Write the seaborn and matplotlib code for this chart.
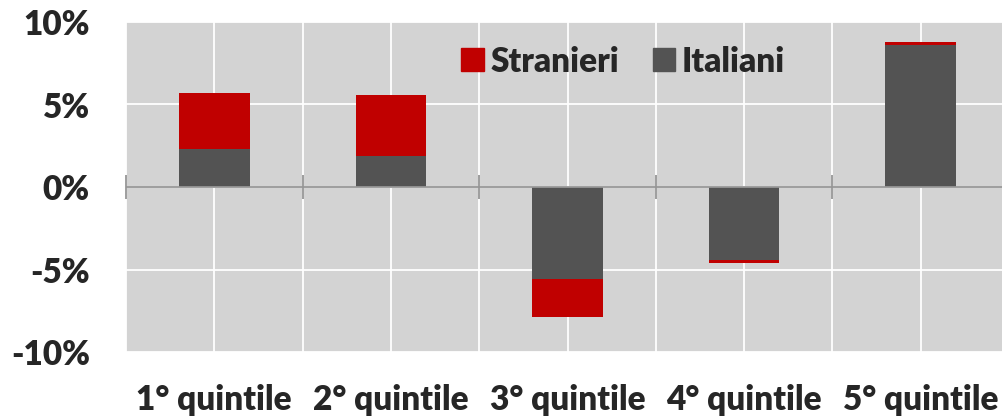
import numpy as np
import pandas as pd
import matplotlib
matplotlib.use("Agg")
import matplotlib.pyplot as plt
import matplotlib.patches as mpatches
from matplotlib.ticker import FuncFormatter, MultipleLocator
import seaborn as sns

# Data (percent change by income quintile)
quintili = ["1° quintile", "2° quintile", "3° quintile", "4° quintile", "5° quintile"]
italiani = [2.3, 1.9, -5.6, -4.4, 8.6]
stranieri = [3.4, 3.7, -2.3, -0.2, 0.2]

COLOR_STR = "#C00000"
COLOR_ITA = "#535353"
COLOR_BG = "#D3D3D3"
COLOR_AXIS = "#969696"

df = pd.DataFrame({"quintile": quintili, "Italiani": italiani, "Stranieri": stranieri})
df["Totale"] = df["Italiani"] + df["Stranieri"]

sns.set_style("white")
plt.rcParams["font.family"] = ["Lato", "DejaVu Sans"]
plt.rcParams["font.weight"] = "heavy"

fig = plt.figure(figsize=(10.03, 4.19), dpi=100)
ax = fig.add_axes([126 / 1003, 1 - 352 / 419, 883 / 1003, 330 / 419])
ax.set_facecolor(COLOR_BG)

# stacked bars: total (red) first, Italiani (gray) drawn over it
sns.barplot(data=df, x="quintile", y="Totale", color=COLOR_STR, width=0.4,
            saturation=1, linewidth=0, ax=ax, zorder=3)
sns.barplot(data=df, x="quintile", y="Italiani", color=COLOR_ITA, width=0.4,
            saturation=1, linewidth=0, ax=ax, zorder=4)

ax.set_ylim(-10, 10)
ax.set_xlim(-0.5, len(quintili) - 0.5)
ax.yaxis.set_major_locator(MultipleLocator(5))
ax.yaxis.set_major_formatter(FuncFormatter(lambda v, p: f"{v:.0f}%"))

# grid: white lines at category centers and boundaries
ax.set_xticks(np.arange(len(quintili)))
ax.set_xticks(np.arange(-0.5, len(quintili), 1.0), minor=True)
ax.grid(True, which="both", color="white", linewidth=1.3, zorder=1)
ax.set_axisbelow(True)

ax.tick_params(axis="y", length=0, pad=26, labelsize=24)
ax.tick_params(axis="x", which="both", length=0, pad=23, labelsize=24)
ax.set_xlabel("")
ax.set_ylabel("")

for s in ax.spines.values():
    s.set_visible(False)

# zero axis with tick marks at category boundaries
ax.axhline(0, color=COLOR_AXIS, linewidth=1.3, zorder=5)
ax.vlines(np.arange(-0.5, len(quintili), 1.0), -0.7, 0.7, color=COLOR_AXIS,
          linewidth=1.3, zorder=5, clip_on=False)

handles = [mpatches.Patch(color=COLOR_STR, label="Stranieri"),
           mpatches.Patch(color=COLOR_ITA, label="Italiani")]
ax.legend(handles=handles, loc="center", bbox_to_anchor=(0.563, 0.88), ncol=2,
          frameon=False, fontsize=24, handlelength=0.68, handleheight=0.68,
          handletextpad=0.2, columnspacing=1.0)

fig.savefig("out.png", dpi=100)
